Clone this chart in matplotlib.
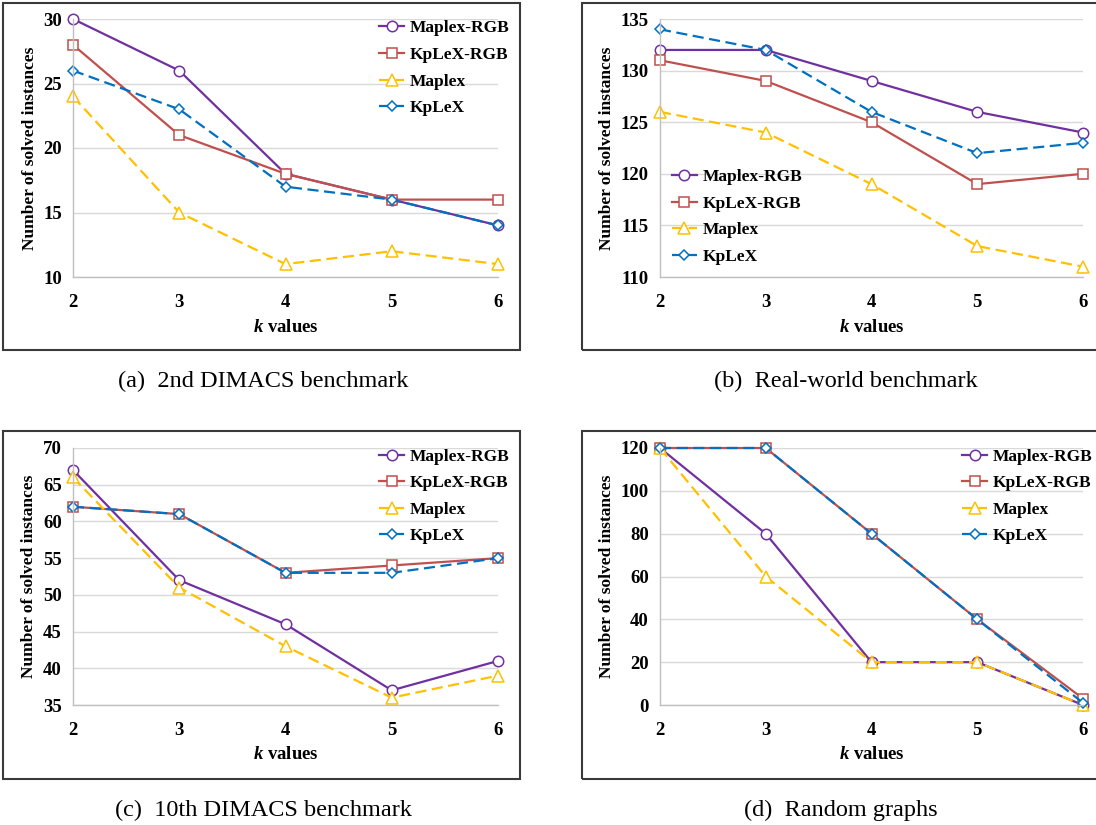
import matplotlib
matplotlib.use('Agg')
import matplotlib.pyplot as plt
from matplotlib.patches import Rectangle

plt.rcParams['font.family'] = ['Liberation Serif', 'DejaVu Serif']
plt.rcParams['mathtext.fontset'] = 'custom'
plt.rcParams['mathtext.it'] = 'Liberation Serif:italic:bold'
plt.rcParams['mathtext.rm'] = 'Liberation Serif:bold'

k_values = [2, 3, 4, 5, 6]
series_names = ['Maplex-RGB', 'KpLeX-RGB', 'Maplex', 'KpLeX']

# (a) 2nd DIMACS benchmark
dimacs2_maplex_rgb = [30, 26, 18, 16, 14]
dimacs2_kplex_rgb = [28, 21, 18, 16, 16]
dimacs2_maplex = [24, 15, 11, 12, 11]
dimacs2_kplex = [26, 23, 17, 16, 14]

# (b) Real-world benchmark
real_maplex_rgb = [132, 132, 129, 126, 124]
real_kplex_rgb = [131, 129, 125, 119, 120]
real_maplex = [126, 124, 119, 113, 111]
real_kplex = [134, 132, 126, 122, 123]

# (c) 10th DIMACS benchmark
dimacs10_maplex_rgb = [67, 52, 46, 37, 41]
dimacs10_kplex_rgb = [62, 61, 53, 54, 55]
dimacs10_maplex = [66, 51, 43, 36, 39]
dimacs10_kplex = [62, 61, 53, 53, 55]

# (d) Random graphs
random_maplex_rgb = [120, 80, 20, 20, 0]
random_kplex_rgb = [120, 120, 80, 40, 3]
random_maplex = [120, 60, 20, 20, 0]
random_kplex = [120, 120, 80, 40, 1]

captions = ['(a)  2nd DIMACS benchmark', '(b)  Real-world benchmark',
            '(c)  10th DIMACS benchmark', '(d)  Random graphs']

styles = [
    dict(color='#7030A0', marker='o', ms=7.5, ls='-'),
    dict(color='#C0504D', marker='s', ms=7, ls='-'),
    dict(color='#FFC000', marker='^', ms=8, ls=(0, (5, 2.5))),
    dict(color='#0070C0', marker='D', ms=5, ls=(0, (5, 2.5))),
]

W, H = 1096.0, 825.0


def px_axes(x0, x1, ytop, ybot):
    return [x0 / W, (H - ybot) / H, (x1 - x0) / W, (ybot - ytop) / H]


def draw_panel(fig, rect, data, ylim, yticks, legend_pos, ylabel_x, box, caption, cap_xy):
    x0, y0, x1, y1 = box
    fig.patches.append(Rectangle((x0 / W, (H - y1) / H), (x1 - x0) / W, (y1 - y0) / H,
                                 transform=fig.transFigure, fill=False,
                                 edgecolor='#3a3a3a', linewidth=1.5))
    ax = fig.add_axes(rect)
    for values, name, st in zip(data, series_names, styles):
        ax.plot(k_values, values, label=name, color=st['color'], ls=st['ls'],
                lw=1.6, marker=st['marker'], ms=st['ms'], mfc='white',
                mec=st['color'], mew=1.1, clip_on=False)
    ax.set_xlim(2, 6)
    ax.set_ylim(*ylim)
    ax.set_yticks(yticks)
    ax.set_xticks(k_values)
    ax.grid(axis='y', color='#D9D9D9', lw=1)
    ax.set_axisbelow(True)
    for s in ['top', 'right']:
        ax.spines[s].set_visible(False)
    for s in ['left', 'bottom']:
        ax.spines[s].set_color('#BFBFBF')
        ax.spines[s].set_linewidth(1)
    ax.tick_params(length=0, labelsize=13.5)
    ax.tick_params(axis='x', pad=12)
    ax.tick_params(axis='y', pad=8)
    for lab in ax.get_xticklabels() + ax.get_yticklabels():
        lab.set_fontweight('bold')
    ax.set_xlabel('$k$ values', fontsize=13.5, fontweight='bold', va='center')
    ax.xaxis.set_label_coords(0.5, -50 / 258)
    ax.set_ylabel('Number of solved instances', fontsize=12.5, fontweight='bold', va='center')
    ax.yaxis.set_label_coords(ylabel_x, 0.5)
    ax.legend(loc='upper left', bbox_to_anchor=legend_pos, frameon=False,
              prop={'weight': 'bold', 'size': 12.5}, borderpad=0, borderaxespad=0,
              handlelength=1.45, handletextpad=0.3, labelspacing=0.6)
    fig.text(cap_xy[0] / W, (H - cap_xy[1]) / H, caption, fontsize=17.5,
             ha='center', va='center')
    return ax


fig = plt.figure(figsize=(10.96, 8.25), dpi=100)

draw_panel(fig, px_axes(73, 498, 19, 277),
           [dimacs2_maplex_rgb, dimacs2_kplex_rgb, dimacs2_maplex, dimacs2_kplex],
           (10, 30), [10, 15, 20, 25, 30], (0.72, 0.995), -0.101,
           (3, 3, 520, 350), captions[0], (263, 381))

draw_panel(fig, px_axes(660, 1083, 19, 277),
           [real_maplex_rgb, real_kplex_rgb, real_maplex, real_kplex],
           (110, 135), [110, 115, 120, 125, 130, 135], (0.028, 0.418), -0.125,
           (582, 3, 1110, 350), captions[1], (846, 381))

draw_panel(fig, px_axes(73, 498, 448, 705),
           [dimacs10_maplex_rgb, dimacs10_kplex_rgb, dimacs10_maplex, dimacs10_kplex],
           (35, 70), [35, 40, 45, 50, 55, 60, 65, 70], (0.72, 0.998), -0.104,
           (3, 431, 520, 779), captions[2], (263, 810))

draw_panel(fig, px_axes(660, 1083, 448, 705),
           [random_maplex_rgb, random_kplex_rgb, random_maplex, random_kplex],
           (0, 120), [0, 20, 40, 60, 80, 100, 120], (0.714, 0.998), -0.125,
           (582, 431, 1110, 779), captions[3], (841, 810))

fig.savefig('out.png', dpi=100)
